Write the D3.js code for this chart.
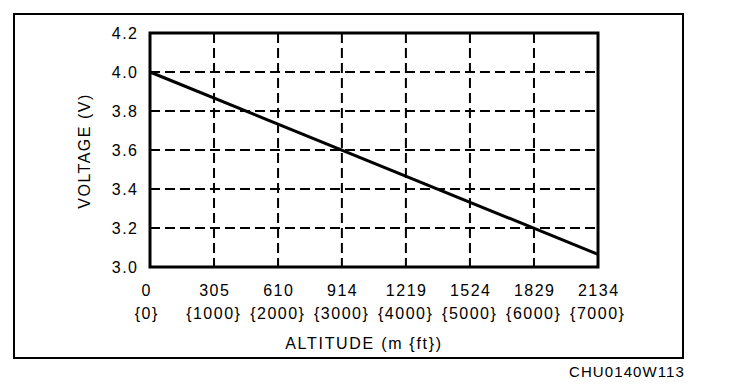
<!DOCTYPE html>
<html><head><meta charset="utf-8">
<script src="https://cdn.jsdelivr.net/npm/d3@7"></script>
<style>body{margin:0;background:#fff}svg{display:block}text{font-family:"Liberation Sans",Arial,sans-serif;fill:#000}</style>
</head><body>
<script>
const altitudeM = [0, 305, 610, 914, 1219, 1524, 1829, 2134];
const altitudeFt = ["{0}", "{1000}", "{2000}", "{3000}", "{4000}", "{5000}", "{6000}", "{7000}"];
const voltTicks = [3.0, 3.2, 3.4, 3.6, 3.8, 4.0, 4.2];
const lineAlt = [0, 2134];
const lineVolt = [4.0, 3.065];

const W = 736, H = 392;
const svg = d3.select("body").append("svg").attr("width", W).attr("height", H);
const m = {l:150, t:33, r:598, b:267};
const x = d3.scaleLinear().domain([0, 2134]).range([m.l, m.r]);
const y = d3.scaleLinear().domain([3.0, 4.2]).range([m.b, m.t]);

// outer frame
svg.append("rect").attr("x",14).attr("y",14).attr("width",669).attr("height",344)
  .attr("fill","none").attr("stroke","#000").attr("stroke-width",2);

// grid
const g = svg.append("g");
g.selectAll(".vg").data(altitudeM.slice(1,-1)).join("line")
  .attr("x1",d=>x(d)).attr("x2",d=>x(d)).attr("y1",m.t).attr("y2",m.b)
  .attr("stroke","#000").attr("stroke-width",2).attr("stroke-dasharray","10,5");
g.selectAll(".hg").data(voltTicks.slice(1,-1)).join("line")
  .attr("y1",d=>y(d)).attr("y2",d=>y(d)).attr("x1",m.l).attr("x2",m.r)
  .attr("stroke","#000").attr("stroke-width",2).attr("stroke-dasharray","10,5");

// data line
const pts = lineAlt.map((a,i)=>[a,lineVolt[i]]);
svg.append("path").attr("d", d3.line().x(d=>x(d[0])).y(d=>y(d[1]))(pts))
  .attr("fill","none").attr("stroke","#000").attr("stroke-width",3);

// plot border
svg.append("rect").attr("x",m.l).attr("y",m.t).attr("width",m.r-m.l).attr("height",m.b-m.t)
  .attr("fill","none").attr("stroke","#000").attr("stroke-width",3);

const LS = 1.5;
// y tick labels
svg.selectAll(".yl").data(voltTicks).join("text")
  .attr("x",137+LS).attr("y",d=>y(d)+6).attr("text-anchor","end")
  .attr("font-size",16).attr("letter-spacing",LS).text(d=>d.toFixed(1));

// x tick labels
svg.selectAll(".xl").data(altitudeM).join("text")
  .attr("x",(d,i)=>x(d)+LS/2-(i===0?4:0)).attr("y",296).attr("text-anchor","middle")
  .attr("font-size",16).attr("letter-spacing",LS).text(d=>d);
svg.selectAll(".xl2").data(altitudeM).join("text")
  .attr("x",(d,i)=>x(d)+LS/2-(i===0?4:1)).attr("y",319).attr("text-anchor","middle")
  .attr("font-size",16).attr("letter-spacing",LS).text((d,i)=>altitudeFt[i]);

// axis titles
svg.append("text").attr("x",364).attr("y",349).attr("text-anchor","middle")
  .attr("font-size",16).attr("letter-spacing",1.7).text("ALTITUDE (m {ft})");
svg.append("text").attr("transform","translate(90,151) rotate(-90)").attr("text-anchor","middle")
  .attr("font-size",16).attr("letter-spacing",1.5).text("VOLTAGE (V)");

// code
svg.append("text").attr("x",685).attr("y",377).attr("text-anchor","end")
  .attr("font-size",15).attr("letter-spacing",1.1).text("CHU0140W113");
</script>
</body></html>
